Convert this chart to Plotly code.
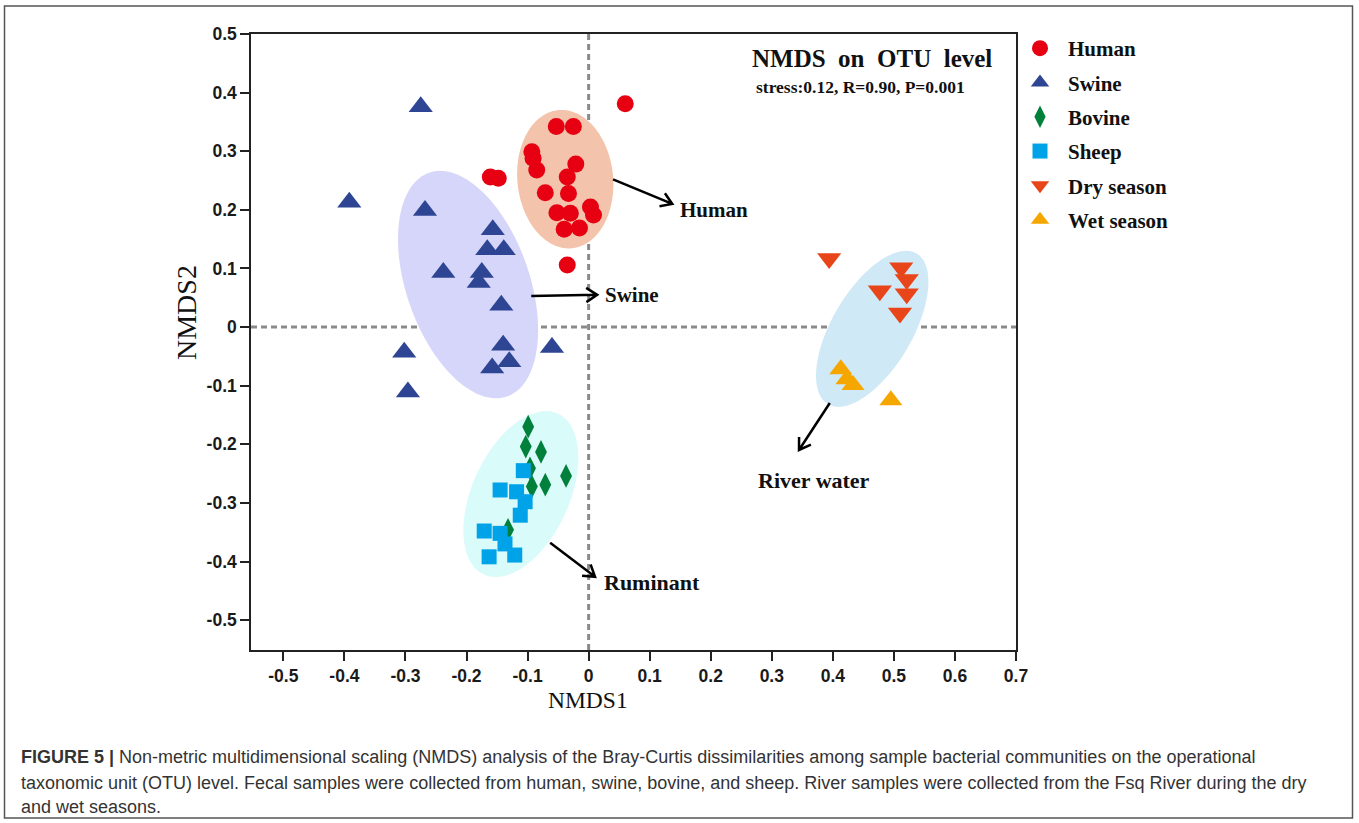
import numpy as np
import plotly.graph_objects as go

# ---------------- data ----------------
human_x = [0.060, -0.053, -0.025, -0.093, -0.091, -0.085, -0.021, -0.035, -0.161, -0.148,
           -0.071, -0.033, -0.052, -0.030, 0.003, 0.008, -0.040, -0.015, -0.035]
human_y = [0.381, 0.342, 0.342, 0.299, 0.288, 0.268, 0.278, 0.256, 0.256, 0.254,
           0.229, 0.228, 0.195, 0.194, 0.205, 0.191, 0.167, 0.169, 0.106]

swine_x = [-0.275, -0.392, -0.268, -0.157, -0.166, -0.139, -0.238, -0.175, -0.180, -0.143,
           -0.302, -0.140, -0.130, -0.158, -0.060, -0.296]
swine_y = [0.376, 0.213, 0.199, 0.166, 0.132, 0.132, 0.093, 0.093, 0.076, 0.037,
           -0.043, -0.031, -0.059, -0.070, -0.035, -0.111]

bovine_x = [-0.099, -0.103, -0.078, -0.096, -0.093, -0.071, -0.037, -0.132]
bovine_y = [-0.170, -0.204, -0.213, -0.241, -0.272, -0.269, -0.254, -0.346]

sheep_x = [-0.107, -0.145, -0.118, -0.104, -0.112, -0.171, -0.145, -0.137, -0.163, -0.121]
sheep_y = [-0.245, -0.278, -0.281, -0.298, -0.321, -0.348, -0.352, -0.370, -0.392, -0.389]

dry_x = [0.394, 0.512, 0.521, 0.477, 0.521, 0.510]
dry_y = [0.117, 0.101, 0.081, 0.062, 0.057, 0.024]

wet_x = [0.413, 0.423, 0.433, 0.495]
wet_y = [-0.072, -0.089, -0.099, -0.125]

group_names = ["Human", "Swine", "Bovine", "Sheep", "Dry season", "Wet season"]

x_ticks = [-0.5, -0.4, -0.3, -0.2, -0.1, 0, 0.1, 0.2, 0.3, 0.4, 0.5, 0.6, 0.7]
y_ticks = [-0.5, -0.4, -0.3, -0.2, -0.1, 0, 0.1, 0.2, 0.3, 0.4, 0.5]
x_ticktext = ["-0.5", "-0.4", "-0.3", "-0.2", "-0.1", "0", "0.1", "0.2", "0.3", "0.4", "0.5", "0.6", "0.7"]
y_ticktext = ["-0.5", "-0.4", "-0.3", "-0.2", "-0.1", "0", "0.1", "0.2", "0.3", "0.4", "0.5"]

# ---------------- layout geometry ----------------
W, H = 1359, 823
ML, MR, MT, MB = 251, 343, 34, 173
X_RANGE = [-0.553, 0.7]
Y_RANGE = [-0.551, 0.5]
PW = W - ML - MR
PH = H - MT - MB
SX = PW / (X_RANGE[1] - X_RANGE[0])
SY = PH / (Y_RANGE[1] - Y_RANGE[0])
S = (SX + SY) / 2


def px_to_paper_x(px):
    return (px - ML) / PW


def px_to_paper_y(py):
    return (H - MB - py) / PH


def ellipse_path(cx, cy, a, b, tilt):
    t = np.linspace(0, 2 * np.pi, 145)
    th = np.radians(tilt)
    dx, dy = np.sin(th), np.cos(th)
    nx, ny = np.cos(th), -np.sin(th)
    ox = a * S * np.cos(t) * dx + b * S * np.sin(t) * nx
    oy = a * S * np.cos(t) * dy + b * S * np.sin(t) * ny
    xs = cx + ox / SX
    ys = cy + oy / SY
    return "M" + " L".join(f"{x:.5f},{y:.5f}" for x, y in zip(xs, ys)) + " Z"


def arrow_path(x0, y0, x1, y1, head=13, ang=33):
    dx = (x1 - x0) * SX
    dy = (y1 - y0) * SY
    L = np.hypot(dx, dy)
    ux, uy = dx / L, dy / L
    pts = []
    for s in (1, -1):
        a = np.radians(180 + s * ang)
        rx = ux * np.cos(a) - uy * np.sin(a)
        ry = ux * np.sin(a) + uy * np.cos(a)
        pts.append((x1 + rx * head / SX, y1 + ry * head / SY))
    return (f"M{x0:.5f},{y0:.5f} L{x1:.5f},{y1:.5f} "
            f"M{pts[0][0]:.5f},{pts[0][1]:.5f} L{x1:.5f},{y1:.5f} L{pts[1][0]:.5f},{pts[1][1]:.5f}")


SERIF = "Liberation Serif, Times New Roman, serif"
SANS = "Liberation Sans, Arial, sans-serif"

fig = go.Figure()

series = [
    (human_x, human_y, "circle", 17, "#e60012"),
    (swine_x, swine_y, "triangle-up", 21, "#2e4593"),
    (bovine_x, bovine_y, "diamond-tall", 17, "#00803a"),
    (sheep_x, sheep_y, "square", 15, "#00a2e8"),
    (dry_x, dry_y, "triangle-down", 21, "#e8461a"),
    (wet_x, wet_y, "triangle-up", 20, "#f5a700"),
]
for name, (xs, ys, sym, size, col) in zip(group_names, series):
    fig.add_trace(go.Scatter(
        x=xs, y=ys, mode="markers", name=name, legendgroup=name,
        marker=dict(symbol=sym, size=size, color=col, line=dict(width=0)),
    ))

shapes = []
# ellipses (center x, center y, semi-major, semi-minor, tilt from vertical)
ellipses = [
    (-0.1975, 0.0725, 0.198, 0.103, -19.2, "#d6d6fa"),
    (-0.0383, 0.2523, 0.1160, 0.0800, -5.7, "#f4c3ab"),
    (-0.111, -0.285, 0.148, 0.081, 24.7, "#d9fbfa"),
    (0.4645, -0.003, 0.146, 0.067, 30.5, "#d0e9f6"),
]
for cx, cy, a, b, tilt, col in ellipses:
    shapes.append(dict(type="path", path=ellipse_path(cx, cy, a, b, tilt), xref="x", yref="y",
                       fillcolor=col, line=dict(width=0), layer="below"))

# dashed zero lines
shapes.append(dict(type="line", xref="x", yref="paper", x0=0, x1=0, y0=0, y1=1,
                   line=dict(color="#8a8a8a", width=3, dash="6px,4px"), layer="below"))
shapes.append(dict(type="line", xref="paper", yref="y", x0=0, x1=1, y0=0, y1=0,
                   line=dict(color="#8a8a8a", width=3, dash="6px,4px"), layer="below"))

# arrows
arrows = [
    (0.040, 0.252, 0.137, 0.210),
    (-0.094, 0.053, 0.014, 0.055),
    (-0.063, -0.368, 0.0105, -0.426),
    (0.395, -0.1296, 0.3446, -0.2097),
]
for x0, y0, x1, y1 in arrows:
    shapes.append(dict(type="path", path=arrow_path(x0, y0, x1, y1), xref="x", yref="y",
                       line=dict(color="black", width=2.5), layer="above"))

# outer figure border
shapes.append(dict(type="rect", xref="paper", yref="paper",
                   x0=px_to_paper_x(4.5), x1=px_to_paper_x(1352.5),
                   y0=px_to_paper_y(818), y1=px_to_paper_y(6),
                   line=dict(color="#555555", width=1.5), fillcolor="rgba(0,0,0,0)", layer="above"))

annotations = []
for txt, x, y, anchor, size in [
    ("Human", 0.146, 0.200, "left", 21),
    ("Swine", 0.023, 0.055, "left", 21),
    ("Ruminant", 0.0225, -0.4365, "left", 22),
    ("River water", 0.369, -0.2626, "center", 22),
]:
    annotations.append(dict(text=txt, x=x, y=y, xref="x", yref="y", xanchor=anchor, yanchor="middle",
                            showarrow=False,
                            font=dict(family=SERIF, size=size, color="#111111", weight="bold")))

annotations.append(dict(text="NMDS\u00a0\u00a0on\u00a0\u00a0OTU\u00a0\u00a0level", x=0.464, y=0.4587,
                        xref="x", yref="y", xanchor="center", yanchor="middle", showarrow=False,
                        font=dict(family=SERIF, size=25, color="#111111", weight="bold")))
annotations.append(dict(text="stress:0.12, R=0.90, P=0.001", x=0.445, y=0.409,
                        xref="x", yref="y", xanchor="center", yanchor="middle", showarrow=False,
                        font=dict(family=SERIF, size=17.5, color="#111111", weight="bold")))

# axis titles
annotations.append(dict(text="NMDS1", x=px_to_paper_x(588), y=px_to_paper_y(700), xref="paper", yref="paper",
                        xanchor="center", yanchor="middle", showarrow=False,
                        font=dict(family=SERIF, size=23.5, color="#111111")))
annotations.append(dict(text="NMDS2", x=px_to_paper_x(186), y=px_to_paper_y(313), xref="paper", yref="paper",
                        xanchor="center", yanchor="middle", showarrow=False, textangle=-90,
                        font=dict(family=SERIF, size=28, color="#111111")))

# caption
caption_lines = [
    "<b>FIGURE 5 |</b> Non-metric multidimensional scaling (NMDS) analysis of the Bray-Curtis dissimilarities among sample bacterial communities on the operational",
    "taxonomic unit (OTU) level. Fecal samples were collected from human, swine, bovine, and sheep. River samples were collected from the Fsq River during the dry",
    "and wet seasons.",
]
for line, py in zip(caption_lines, [757, 783, 807]):
    annotations.append(dict(text=line, x=px_to_paper_x(19), y=px_to_paper_y(py), xref="paper", yref="paper",
                            xanchor="left", yanchor="middle", showarrow=False,
                            font=dict(family=SANS, size=18, color="#333333")))

axis_common = dict(showline=True, linecolor="#222222", linewidth=1.5, mirror=True,
                   ticks="outside", ticklen=9, tickwidth=1.5, tickcolor="#222222",
                   showgrid=False, zeroline=False,
                   tickfont=dict(family=SANS, size=17.5, color="#1a1a1a", weight="bold"))

fig.update_layout(
    width=W, height=H,
    margin=dict(l=ML, r=MR, t=MT, b=MB, autoexpand=False),
    paper_bgcolor="white", plot_bgcolor="white",
    xaxis=dict(range=X_RANGE, tickvals=x_ticks, ticktext=x_ticktext, **axis_common),
    yaxis=dict(range=Y_RANGE, tickvals=y_ticks, ticktext=y_ticktext, **axis_common),
    shapes=shapes,
    annotations=annotations,
    showlegend=True,
    legend=dict(x=px_to_paper_x(1012), y=px_to_paper_y(28), xanchor="left", yanchor="top",
                font=dict(family=SERIF, size=21, color="#111111", weight="bold"),
                tracegroupgap=4, itemwidth=46, bgcolor="rgba(0,0,0,0)", borderwidth=0),
)

fig.write_html("out.html")
